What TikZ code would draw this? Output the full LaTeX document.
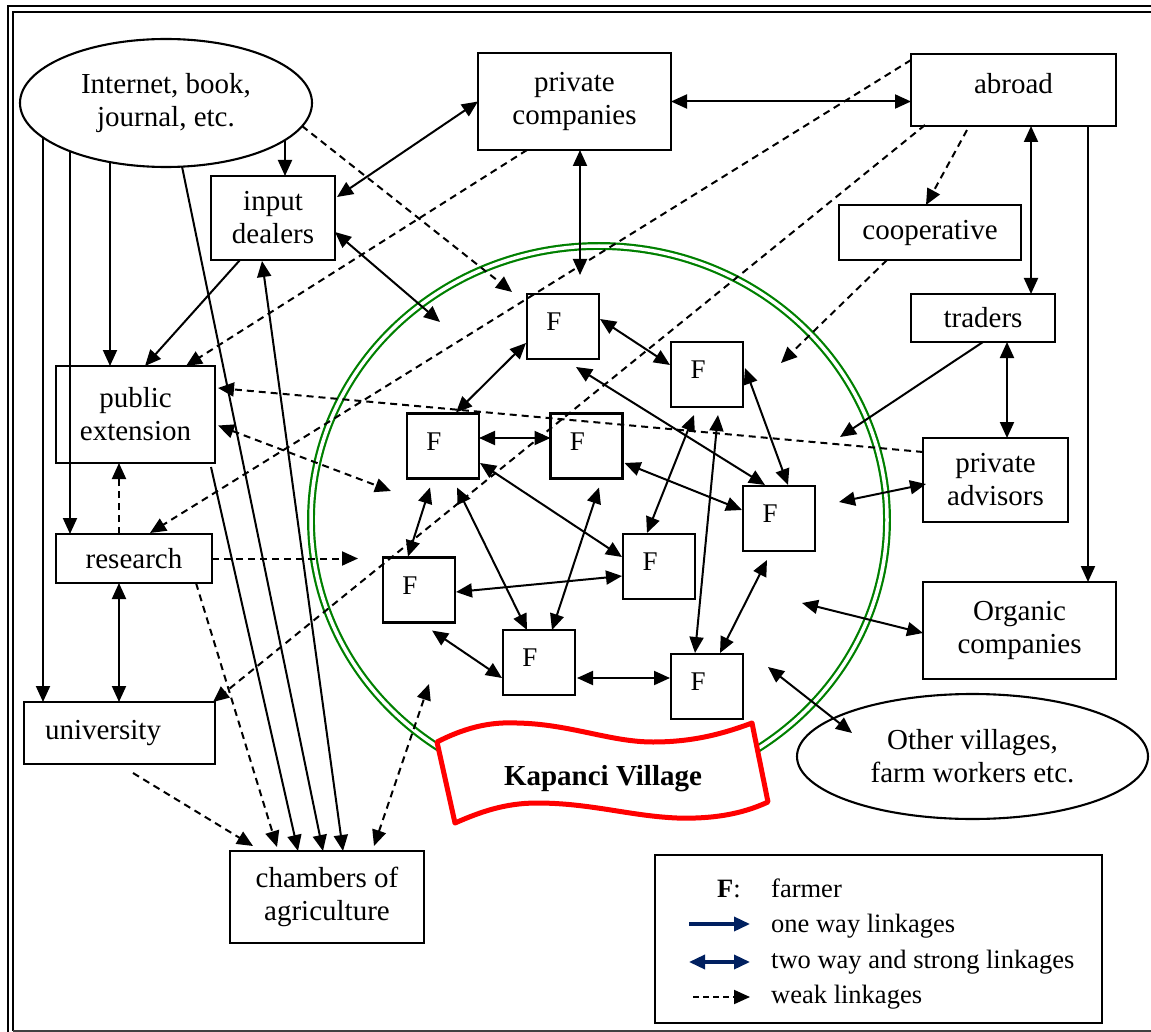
\documentclass[tikz,border=0pt]{standalone}
\usepackage{fontspec}
\setmainfont{Liberation Serif}
\usetikzlibrary{arrows.meta,calc,shapes.geometric}
\definecolor{linkblue}{RGB}{0,32,96}
\definecolor{ringgreen}{RGB}{0,128,0}
\begin{document}
\begin{tikzpicture}[x=1pt,y=-1pt,
      font=\fontsize{29pt}{33pt}\selectfont,
      >={Triangle[length=16pt,width=14pt]},
      box/.style={draw, line width=2.1pt, inner sep=0pt, outer sep=0pt, align=center},
      oval/.style={box, ellipse},
      fbox/.style={box, minimum width=72pt, minimum height=65pt, text depth=9pt, font=\fontsize{27pt}{30pt}\selectfont},
      oneway/.style={line width=2pt, ->},
      twoway/.style={line width=2pt, <->},
      weak/.style={oneway, dash pattern=on 7pt off 5pt},
      weakboth/.style={twoway, dash pattern=on 7pt off 5pt},
      legtext/.style={anchor=base west, inner sep=0pt, font=\fontsize{26.5pt}{30pt}\selectfont}]
      \useasboundingbox (0,0) rectangle (1151,1032);
      \draw[line width=2.3pt] (8,1032) -- (8,6) -- (1151,6);
      \draw[line width=1.6pt] (13,1031) -- (13,12) -- (1151,12);
      \draw[line width=1.8pt, black!75] (13,1031) -- (1151,1031);

      \draw[ringgreen, line width=2.2pt, double=white, double distance=3.5pt] (599,520) ellipse [x radius=288pt, y radius=274pt];
      \draw[red, line width=5pt, fill=white, line join=round] (437,742) .. controls (470,725) and (495,722) .. (517,723) .. controls (570,724) and (610,742) .. (653,742) .. controls (690,742) and (720,735) .. (752,723) -- (768,802) .. controls (740,815) and (710,819) .. (677,818) .. controls (630,816) and (590,803) .. (537,803) .. controls (505,803) and (480,812) .. (455,823) -- cycle;
      \node[anchor=base, font=\fontsize{29pt}{33pt}\selectfont\bfseries] (kapanci) at (603,785) {Kapanci Village};

      \node[oval, minimum width=292pt, minimum height=128pt] (intern) at (166,103) {Internet, book,\\journal, etc.};
      \node[box, minimum width=193pt, minimum height=97pt] (pcomp) at (574.5,101.5) {private\\companies};
      \node[box, minimum width=205pt, minimum height=72pt, text depth=14pt] (abroad) at (1013.5,90) {abroad};
      \node[box, minimum width=182pt, minimum height=55pt] (coop) at (930,232.5) {cooperative};
      \node[box, minimum width=144pt, minimum height=48pt] (traders) at (983,318) {traders};
      \node[box, minimum width=124pt, minimum height=84pt] (indeal) at (273,218) {input\\dealers};
      \node[box, minimum width=159pt, minimum height=97pt] (pubext) at (135.5,414.5) {public\\extension};
      \node[box, minimum width=156pt, minimum height=49pt] (research) at (134,558.5) {research};
      \node[box, minimum width=191pt, minimum height=62pt] (univ) at (119.5,733) {university\rule{33pt}{0pt}};
      \node[box, minimum width=194pt, minimum height=92pt] (chamber) at (327,897) {chambers of\\agriculture};
      \node[box, minimum width=145pt, minimum height=84pt] (padv) at (995.5,480) {private\\advisors};
      \node[box, minimum width=193pt, minimum height=97pt] (organic) at (1019.5,630.5) {Organic\\companies};
      \node[oval, minimum width=351pt, minimum height=125pt] (others) at (972.5,756.5) {Other villages,\\farm workers etc.};

      \node[fbox] (f1) at (563,326.5) {F\rule{18pt}{0pt}};
      \node[fbox] (f2) at (707,374.5) {F\rule{18pt}{0pt}};
      \node[fbox] (f3) at (443,446) {F\rule{18pt}{0pt}};
      \node[fbox] (f4) at (586.5,446) {F\rule{18pt}{0pt}};
      \node[fbox] (f5) at (779,518.5) {F\rule{18pt}{0pt}};
      \node[fbox] (f6) at (659,566.5) {F\rule{18pt}{0pt}};
      \node[fbox] (f7) at (419,590) {F\rule{18pt}{0pt}};
      \node[fbox] (f8) at (539,662.5) {F\rule{18pt}{0pt}};
      \node[fbox] (f9) at (707,686.5) {F\rule{18pt}{0pt}};

      \coordinate (wk1) at (512,292); \coordinate (pe1) at (391,491);
      \coordinate (re1) at (358,558.5); \coordinate (pc1) at (580,275);
      \coordinate (id1) at (440,322); \coordinate (ch1) at (429,684);
      \coordinate (co1) at (781,363); \coordinate (tr1) at (840,437);
      \coordinate (pa1) at (839,502); \coordinate (og1) at (802,603);
      \coordinate (ot1) at (768,667);
      \coordinate (i1) at ($(intern)+(-123,34.5)$); \coordinate (i2) at ($(intern)+(-96,48)$);
      \coordinate (i3) at ($(intern)+(-56,59)$); \coordinate (i4) at ($(intern)+(16,63.5)$);
      \coordinate (i5) at ($(intern)+(119,37)$); \coordinate (i6) at ($(intern)+(136,23)$);
      \coordinate (r1) at ($(research.north)+(-15,0)$);
      \coordinate (a1) at ($(abroad.south)+(17.5,0)$); \coordinate (a2) at ($(abroad.south east)+(-28,0)$);
      \coordinate (t1) at ($(traders.south)+(24,0)$);

      \draw[oneway] (i1) -- (i1 |- univ.north);
      \draw[oneway] (i2) -- (i2 |- research.north);
      \draw[oneway] (i3) -- (i3 |- pubext.north);
      \draw[oneway] (i4) -- ($(chamber.north)+(-4,0)$);
      \draw[oneway] (i5) -- (i5 |- indeal.north);
      \draw[weak] (i6) -- (wk1);
      \draw[oneway] ($(pubext.south east)+(-4,4)$) -- ($(chamber.north)+(-29,0)$);
      \draw[oneway] ($(indeal.south)+(-33,0)$) -- ($(pubext.north)+(9.5,0)$);
      \draw[weak] ($(pcomp.south)+(-47.5,0)$) -- ($(pubext.north)+(50.5,0)$);
      \draw[weak] ($(padv.west)+(0,-28)$) -- ($(pubext.east)+(3,-26.5)$);
      \draw[weakboth] ($(pubext.east)+(3,11)$) -- (pe1);
      \draw[weak] (r1) -- (r1 |- pubext.south);
      \draw[weak] (research.east) -- (re1);
      \draw[weak] ($(research.south)+(62,0)$) -- ($(chamber.north)+(-50,-4)$);
      \draw[twoway] (r1 |- research.south) -- (r1 |- univ.north);
      \draw[weak] ($(univ.south)+(13.5,9)$) -- ($(chamber.north)+(-74,-5)$);
      \draw[weak] ($(abroad.south west)+(14,-1)$) -- ($(univ.north east)+(-2,0)$);
      \draw[weak] ($(abroad.west)+(0,-30)$) -- ($(research.north)+(16,-1)$);
      \draw[twoway] (pcomp.east) -- (pcomp.east -| abroad.west);
      \draw[twoway] ($(pcomp.south)+(5.5,0)$) -- (pc1);
      \draw[twoway] (pcomp.west) -- ($(indeal.east)+(2,-21)$);
      \draw[twoway] ($(indeal.east)+(0,14)$) -- (id1);
      \draw[twoway] ($(indeal.south)+(-11,1)$) -- ($(chamber.north)+(16,0)$);
      \draw[weakboth] ($(chamber.north)+(47,-5)$) -- (ch1);
      \draw[weak] ($(abroad.south)+(-46.5,4)$) -- ($(coop.north)+(-4,0)$);
      \draw[weak] ($(coop.south)+(-43,0)$) -- (co1);
      \draw[twoway] (a1) -- (a1 |- traders.north);
      \draw[oneway] (a2) -- (a2 |- organic.north);
      \draw[oneway] (traders.south) -- (tr1);
      \draw[twoway] (t1) -- (t1 |- padv.north);
      \draw[twoway] ($(padv.west)+(3,4)$) -- (pa1);
      \draw[twoway] ($(organic.west)+(0,2.5)$) -- (og1);
      \draw[twoway] ($(others)+(-120.5,-23.5)$) -- (ot1);

      \draw[twoway] ($(f1.east)+(1,-7.5)$) -- ($(f2.west)+(-1,-9.5)$);
      \draw[twoway] ($(f1.west)+(-1,16.5)$) -- ($(f3.north)+(13,-1)$);
      \draw[twoway] ($(f1.south)+(13,8)$) -- ($(f5.north)+(-14,-1)$);
      \draw[twoway] ($(f2.east)+(2,-6.5)$) -- ($(f5.north)+(9,-1)$);
      \draw[twoway] ($(f3.east)+(0,-8)$) -- ($(f4.west)+(0,-8)$);
      \draw[twoway] ($(f3.east)+(1,17)$) -- ($(f6.west)+(-1,-9.5)$);
      \draw[twoway] ($(f4.east)+(2,17)$) -- ($(f5.west)+(-1,-8.5)$);
      \draw[twoway] ($(f2.south)+(-13,8)$) -- ($(f6.north)+(-12,-1)$);
      \draw[twoway] ($(f2.south)+(11,8)$) -- ($(f9.north)+(-12,-1)$);
      \draw[twoway] ($(f3.south)+(-13,9)$) -- ($(f7.north)+(-11,-1)$);
      \draw[twoway] ($(f3.south)+(14,9)$) -- ($(f8.north)+(-12,0)$);
      \draw[twoway] ($(f4.south)+(12.5,9)$) -- ($(f8.north)+(13,0)$);
      \draw[twoway] ($(f7.east)+(1,2)$) -- ($(f6.west)+(-1,9.5)$);
      \draw[twoway] ($(f7.south)+(13,8)$) -- ($(f8.west)+(-1,15.5)$);
      \draw[twoway] ($(f8.east)+(2,15.5)$) -- ($(f9.west)+(-1,-8.5)$);
      \draw[twoway] ($(f5.south)+(-12,9)$) -- ($(f9.north)+(13,-1)$);

      \node[box, minimum width=447pt, minimum height=168pt] (legend) at (878.5,939) {};
      \node[legtext] (legf) at (717,897) {\textbf{F}:};
      \node[legtext] (leg1) at (771,897) {farmer};
      \node[legtext] (leg2) at (771,932) {one way linkages};
      \node[legtext] (leg3) at (771,968) {two way and strong linkages};
      \node[legtext] (leg4) at (771,1003) {weak linkages};
      \coordinate (l1a) at (689,924); \coordinate (l1b) at (750,924);
      \coordinate (l2a) at (689,962); \coordinate (l2b) at (750,962);
      \coordinate (l3a) at (693,997); \coordinate (l3b) at (750,997);
      \draw[oneway, linkblue, line width=3.5pt] (l1a) -- (l1b);
      \draw[twoway, linkblue, line width=3.5pt] (l2a) -- (l2b);
      \draw[weak, dash pattern=on 6pt off 4pt] (l3a) -- (l3b);
\end{tikzpicture}
\end{document}
